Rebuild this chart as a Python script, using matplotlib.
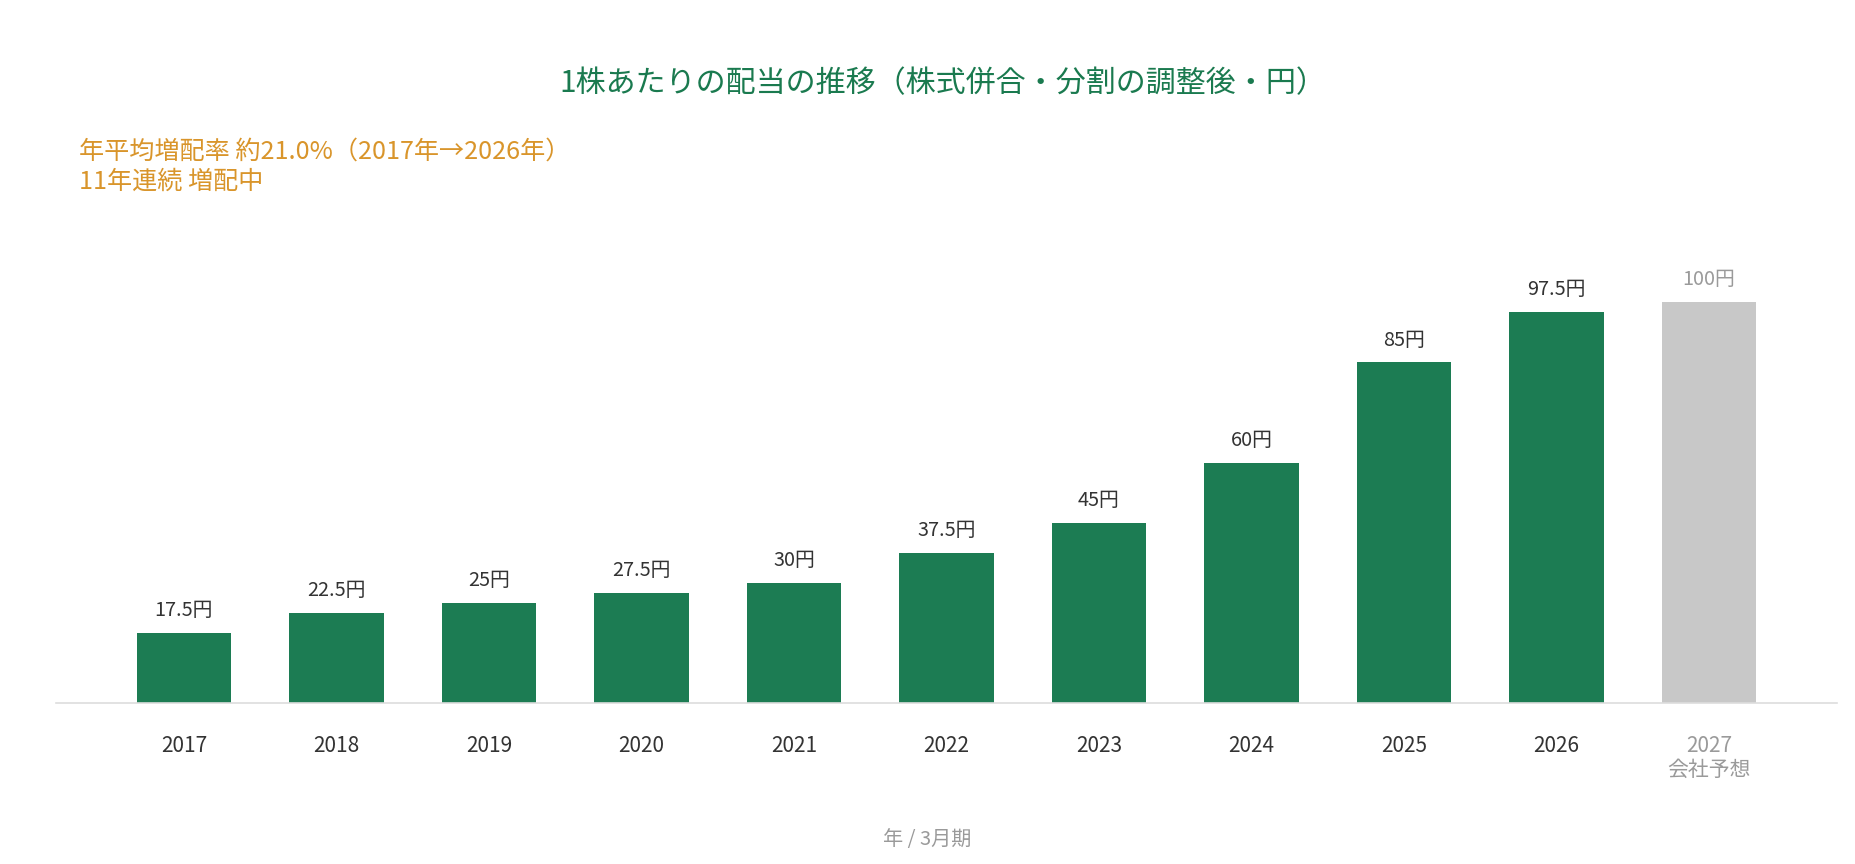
import numpy as np
import matplotlib
matplotlib.use("Agg")
import matplotlib.pyplot as plt

plt.rcParams['font.family'] = ['Noto Sans CJK JP', 'DejaVu Sans']

# データ（1株あたり配当、調整後・円）
years = ["2017", "2018", "2019", "2020", "2021", "2022", "2023", "2024", "2025", "2026", "2027"]
dividends = [17.5, 22.5, 25, 27.5, 30, 37.5, 45, 60, 85, 97.5, 100]
value_labels = ["17.5円", "22.5円", "25円", "27.5円", "30円", "37.5円", "45円", "60円", "85円", "97.5円", "100円"]
forecast = [False] * 10 + [True]

title = "1株あたりの配当の推移（株式併合・分割の調整後・円）"
note_lines = ["年平均増配率 約21.0%（2017年→2026年）", "11年連続 増配中"]
xlabel = "年 / 3月期"

GREEN = "#1c7c53"
GRAY_BAR = "#c8c8c8"
GRAY_TXT = "#9a9a9a"
DARK = "#333333"
ORANGE = "#d9952b"

W, H = 1856, 864
fig = plt.figure(figsize=(W / 100, H / 100), dpi=100)

# 軸位置（ピクセル）
left, right, base, top = 56, 1837, 703, 222
ax = fig.add_axes([left / W, 1 - base / H, (right - left) / W, (base - top) / H])

x = np.arange(len(years))
colors = [GRAY_BAR if f else GREEN for f in forecast]
ax.bar(x, dividends, width=0.62, color=colors, zorder=2)

for xi, v, lab, f in zip(x, dividends, value_labels, forecast):
    ax.annotate(lab, (xi, v), xytext=(0, 16), textcoords="offset points",
                ha="center", va="center", fontsize=14.3,
                color=GRAY_TXT if f else DARK)

ax.set_xlim(-0.839, 10.84)
ax.set_ylim(0, 120)
ax.set_yticks([])
for s in ["top", "right", "left"]:
    ax.spines[s].set_visible(False)
ax.spines["bottom"].set_color("#dddddd")
ax.spines["bottom"].set_linewidth(1.2)

ticklabels = [y + "\n会社予想" if f else y for y, f in zip(years, forecast)]
ax.set_xticks(x)
ax.set_xticklabels(ticklabels, fontsize=15, linespacing=1.1, va="top")
ax.tick_params(axis="x", length=0, pad=23)
for t, f in zip(ax.get_xticklabels(), forecast):
    t.set_color(GRAY_TXT if f else DARK)

fig.text(943 / W, 1 - 84 / H, title, ha="center", va="center", fontsize=21.6, color="#1a7a4f")
fig.text(79 / W, 1 - 152 / H, note_lines[0], ha="left", va="center", fontsize=18.1, color=ORANGE)
fig.text(79 / W, 1 - 182 / H, note_lines[1], ha="left", va="center", fontsize=18.1, color=ORANGE)
fig.text(927 / W, 1 - 840 / H, xlabel, ha="center", va="center", fontsize=14.5, color=GRAY_TXT)

fig.savefig("out.png", dpi=100, facecolor="white")
